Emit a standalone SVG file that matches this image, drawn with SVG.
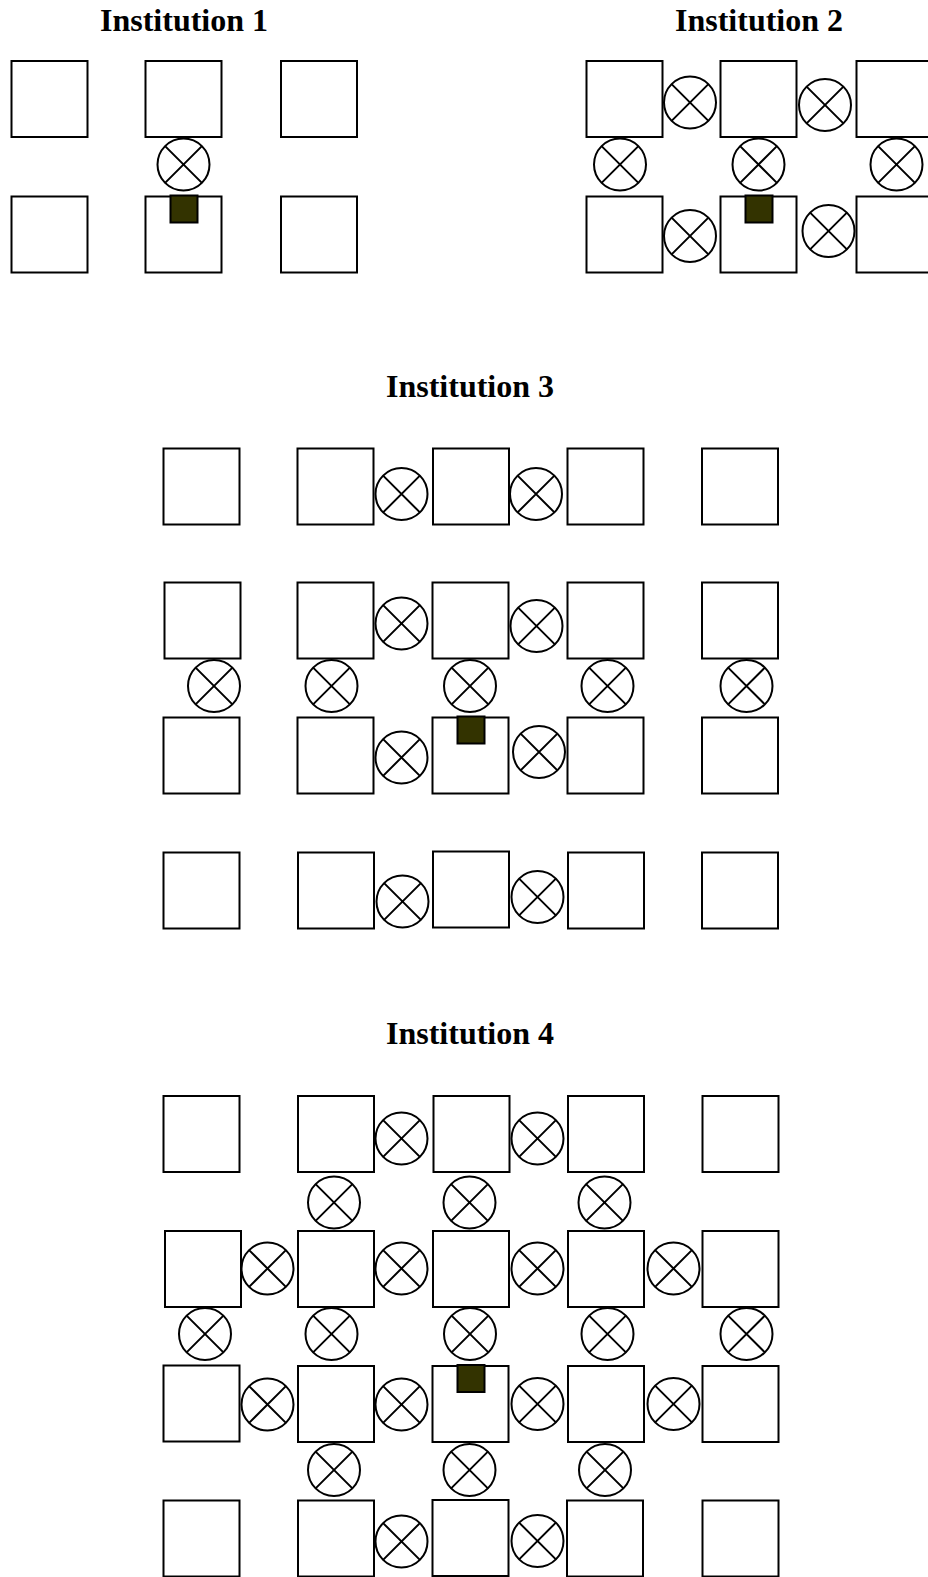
<svg xmlns="http://www.w3.org/2000/svg" xmlns:xlink="http://www.w3.org/1999/xlink" width="928" height="1577" viewBox="0 0 928 1577">
<style>
.box{fill:#fff;stroke:#000;stroke-width:2}
.key{fill:#333300;stroke:#000;stroke-width:2}
.valve circle{fill:#fff;stroke:#000;stroke-width:2}
.valve path{fill:none;stroke:#000;stroke-width:2}
.title{font-family:"Liberation Serif","Times New Roman",serif;font-weight:bold;font-size:32px;text-anchor:middle;fill:#000}
</style>
<defs>
<g id="valve" class="valve"><circle cx="0" cy="0" r="26"/><path d="M-18.4,-18.4L18.4,18.4M-18.4,18.4L18.4,-18.4"/></g>
</defs>
<rect x="0" y="0" width="928" height="1577" fill="#fff"/>

<g id="institution1">
<text class="title" x="184" y="31">Institution 1</text>
<g id="i1-boxes">
<rect class="box" x="11.5" y="61" width="76" height="76"/>
<rect class="box" x="145.5" y="61" width="76" height="76"/>
<rect class="box" x="281" y="61" width="76" height="76"/>
<rect class="box" x="11.5" y="196.5" width="76" height="76"/>
<rect class="box" x="145.5" y="196.5" width="76" height="76"/>
<rect class="box" x="281" y="196.5" width="76" height="76"/>
</g>
<g id="i1-valves">
<use xlink:href="#valve" href="#valve" x="183.5" y="164.5"/>
</g>
<rect id="i1-key" class="key" x="170.5" y="195.5" width="27" height="27"/>
</g>

<g id="institution2">
<text class="title" x="759" y="31">Institution 2</text>
<g id="i2-boxes">
<rect class="box" x="586.5" y="61" width="76" height="76"/>
<rect class="box" x="720.5" y="61" width="76" height="76"/>
<rect class="box" x="856.5" y="61" width="76" height="76"/>
<rect class="box" x="586.5" y="196.5" width="76" height="76"/>
<rect class="box" x="720.5" y="196.5" width="76" height="76"/>
<rect class="box" x="856.5" y="196.5" width="76" height="76"/>
</g>
<g id="i2-valves">
<use xlink:href="#valve" href="#valve" x="690" y="102.5"/>
<use xlink:href="#valve" href="#valve" x="825" y="105"/>
<use xlink:href="#valve" href="#valve" x="620" y="164.5"/>
<use xlink:href="#valve" href="#valve" x="758.5" y="164.5"/>
<use xlink:href="#valve" href="#valve" x="896.5" y="164.5"/>
<use xlink:href="#valve" href="#valve" x="690" y="236"/>
<use xlink:href="#valve" href="#valve" x="828.5" y="231"/>
</g>
<rect id="i2-key" class="key" x="745.5" y="195.5" width="27" height="27"/>
</g>

<g id="institution3">
<text class="title" x="470" y="397">Institution 3</text>
<g id="i3-boxes">
<rect class="box" x="163.5" y="448.5" width="76" height="76"/>
<rect class="box" x="297.5" y="448.5" width="76" height="76"/>
<rect class="box" x="433" y="448.5" width="76" height="76"/>
<rect class="box" x="567.5" y="448.5" width="76" height="76"/>
<rect class="box" x="702" y="448.5" width="76" height="76"/>
<rect class="box" x="164.5" y="582.5" width="76" height="76"/>
<rect class="box" x="297.5" y="582.5" width="76" height="76"/>
<rect class="box" x="432.5" y="582.5" width="76" height="76"/>
<rect class="box" x="567.5" y="582.5" width="76" height="76"/>
<rect class="box" x="702" y="582.5" width="76" height="76"/>
<rect class="box" x="163.5" y="717.5" width="76" height="76"/>
<rect class="box" x="297.5" y="717.5" width="76" height="76"/>
<rect class="box" x="432.5" y="717.5" width="76" height="76"/>
<rect class="box" x="567.5" y="717.5" width="76" height="76"/>
<rect class="box" x="702" y="717.5" width="76" height="76"/>
<rect class="box" x="163.5" y="852.5" width="76" height="76"/>
<rect class="box" x="298" y="852.5" width="76" height="76"/>
<rect class="box" x="433" y="851.5" width="76" height="76"/>
<rect class="box" x="568" y="852.5" width="76" height="76"/>
<rect class="box" x="702" y="852.5" width="76" height="76"/>
</g>
<g id="i3-valves">
<use xlink:href="#valve" href="#valve" x="401.5" y="494"/>
<use xlink:href="#valve" href="#valve" x="536" y="494"/>
<use xlink:href="#valve" href="#valve" x="401.5" y="623.5"/>
<use xlink:href="#valve" href="#valve" x="536.5" y="626"/>
<use xlink:href="#valve" href="#valve" x="214" y="686"/>
<use xlink:href="#valve" href="#valve" x="331.5" y="686"/>
<use xlink:href="#valve" href="#valve" x="470" y="686"/>
<use xlink:href="#valve" href="#valve" x="607.5" y="686"/>
<use xlink:href="#valve" href="#valve" x="746.5" y="686"/>
<use xlink:href="#valve" href="#valve" x="401.5" y="757.5"/>
<use xlink:href="#valve" href="#valve" x="539" y="752"/>
<use xlink:href="#valve" href="#valve" x="402.5" y="901.5"/>
<use xlink:href="#valve" href="#valve" x="537.5" y="897"/>
</g>
<rect id="i3-key" class="key" x="457.5" y="716.5" width="27" height="27"/>
</g>

<g id="institution4">
<text class="title" x="470" y="1044">Institution 4</text>
<g id="i4-boxes">
<rect class="box" x="163.5" y="1096" width="76" height="76"/>
<rect class="box" x="298" y="1096" width="76" height="76"/>
<rect class="box" x="433.5" y="1096" width="76" height="76"/>
<rect class="box" x="568" y="1096" width="76" height="76"/>
<rect class="box" x="702.5" y="1096" width="76" height="76"/>
<rect class="box" x="165" y="1231" width="76" height="76"/>
<rect class="box" x="298" y="1231" width="76" height="76"/>
<rect class="box" x="433" y="1231" width="76" height="76"/>
<rect class="box" x="568" y="1231" width="76" height="76"/>
<rect class="box" x="702.5" y="1231" width="76" height="76"/>
<rect class="box" x="163.5" y="1365.5" width="76" height="76"/>
<rect class="box" x="298" y="1366" width="76" height="76"/>
<rect class="box" x="432.5" y="1366" width="76" height="76"/>
<rect class="box" x="568" y="1366" width="76" height="76"/>
<rect class="box" x="702.5" y="1366" width="76" height="76"/>
<rect class="box" x="163.5" y="1500.5" width="76" height="76"/>
<rect class="box" x="298" y="1500.5" width="76" height="76"/>
<rect class="box" x="432.5" y="1500" width="76" height="76"/>
<rect class="box" x="567" y="1500.5" width="76" height="76"/>
<rect class="box" x="702.5" y="1500.5" width="76" height="76"/>
</g>
<g id="i4-valves">
<use xlink:href="#valve" href="#valve" x="401.5" y="1138.5"/>
<use xlink:href="#valve" href="#valve" x="537.5" y="1138.5"/>
<use xlink:href="#valve" href="#valve" x="334" y="1202.5"/>
<use xlink:href="#valve" href="#valve" x="469.5" y="1202.5"/>
<use xlink:href="#valve" href="#valve" x="604.5" y="1202.5"/>
<use xlink:href="#valve" href="#valve" x="267.5" y="1268.5"/>
<use xlink:href="#valve" href="#valve" x="401.5" y="1268.5"/>
<use xlink:href="#valve" href="#valve" x="537.5" y="1268.5"/>
<use xlink:href="#valve" href="#valve" x="673.5" y="1268.5"/>
<use xlink:href="#valve" href="#valve" x="205" y="1334"/>
<use xlink:href="#valve" href="#valve" x="331.5" y="1334"/>
<use xlink:href="#valve" href="#valve" x="470" y="1334"/>
<use xlink:href="#valve" href="#valve" x="607.5" y="1334"/>
<use xlink:href="#valve" href="#valve" x="746.5" y="1334"/>
<use xlink:href="#valve" href="#valve" x="267.5" y="1404.5"/>
<use xlink:href="#valve" href="#valve" x="401.5" y="1404.5"/>
<use xlink:href="#valve" href="#valve" x="537.5" y="1404"/>
<use xlink:href="#valve" href="#valve" x="673.5" y="1404"/>
<use xlink:href="#valve" href="#valve" x="334" y="1470"/>
<use xlink:href="#valve" href="#valve" x="469.5" y="1470"/>
<use xlink:href="#valve" href="#valve" x="605" y="1470"/>
<use xlink:href="#valve" href="#valve" x="401.5" y="1541.5"/>
<use xlink:href="#valve" href="#valve" x="537.5" y="1541"/>
</g>
<rect id="i4-key" class="key" x="457.5" y="1365" width="27" height="27"/>
</g>
</svg>
